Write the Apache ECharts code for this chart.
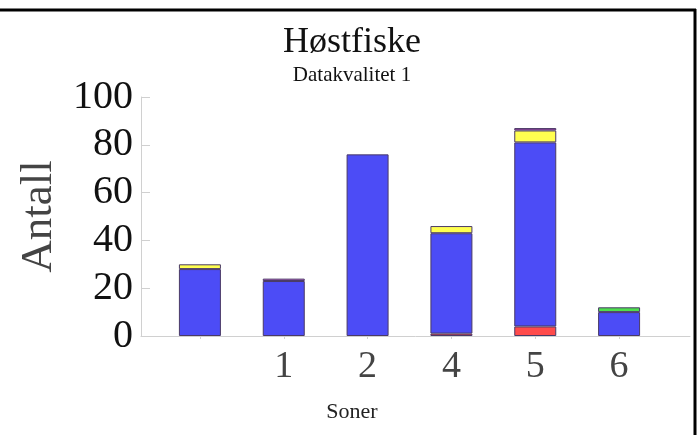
<!DOCTYPE html>
<html>
<head>
<meta charset="utf-8">
<script src="https://cdn.jsdelivr.net/npm/echarts@6/dist/echarts.min.js"></script>
<style>html,body{margin:0;padding:0;background:#fff}#c{width:700px;height:435px}</style>
</head>
<body>
<div id="c"></div>
<script>
const categories = ["", "1", "2", "4", "5", "6"];
const red     = [0, 0, 0, 1, 4, 0];
const blue    = [28, 23, 76, 42, 77, 10];
const yellow  = [2, 0, 0, 3, 5, 0];
const magenta = [0, 1, 0, 0, 1, 0];
const green   = [0, 0, 0, 0, 0, 2];
const yTicks  = [0, 20, 40, 60, 80, 100];

const seriesDefs = [
  { name: "rød", data: red, color: "#ff4b4b" },
  { name: "blå", data: blue, color: "#4c4cf6" },
  { name: "gul", data: yellow, color: "#ffff50" },
  { name: "lilla", data: magenta, color: "#c04cc4" },
  { name: "grønn", data: green, color: "#4ee04e" }
];

const chart = echarts.init(document.getElementById('c'), null, { renderer: 'canvas' });
const font = "'Liberation Serif', 'Times New Roman', serif";
const axisGray = '#d0d0d0';

chart.setOption({
  animation: false,
  backgroundColor: '#fff',
  title: [
    { text: 'Høstfiske', left: 347, top: 20, textAlign: 'center',
      textStyle: { fontFamily: font, fontSize: 36, fontWeight: 'normal', color: '#111' } },
    { text: 'Datakvalitet 1', left: 347, top: 60, textAlign: 'center',
      textStyle: { fontFamily: font, fontSize: 21, fontWeight: 'normal', color: '#111' } },
    { text: 'Soner', left: 347, top: 396, textAlign: 'center',
      textStyle: { fontFamily: font, fontSize: 22, fontWeight: 'normal', color: '#222' } }
  ],
  grid: [
    { left: 158, right: 39, top: 97, bottom: 99, containLabel: false },
    { left: 141, right: 10, top: 97, bottom: 99, containLabel: false }
  ],
  xAxis: [
    { type: 'category', gridIndex: 0, data: categories, boundaryGap: true,
      axisLine: { show: false },
      axisTick: { show: true, alignWithLabel: true, length: 3, lineStyle: { color: axisGray } },
      axisLabel: { margin: 12, fontFamily: font, fontSize: 38, color: '#444' } },
    { type: 'value', gridIndex: 1, min: 0, max: 1,
      axisLine: { show: true, onZero: false, lineStyle: { color: axisGray, width: 1 } },
      axisTick: { show: false }, axisLabel: { show: false }, splitLine: { show: false } }
  ],
  yAxis: [
    { type: 'value', gridIndex: 0, min: 0, max: 100, interval: 20,
      axisLine: { show: false }, axisTick: { show: false }, axisLabel: { show: false },
      splitLine: { show: false } },
    { type: 'value', gridIndex: 1, min: 0, max: 100, interval: 20,
      name: 'Antall', nameLocation: 'middle', nameGap: 78, nameRotate: 90,
      nameTextStyle: { fontFamily: font, fontSize: 45, color: '#444' },
      splitLine: { show: false },
      axisLine: { show: true, onZero: false, lineStyle: { color: axisGray, width: 1 } },
      axisTick: { show: true, inside: true, length: 9, lineStyle: { color: axisGray } },
      axisLabel: { margin: 8, fontFamily: font, fontSize: 40, color: '#111',
        formatter: v => yTicks.includes(v) ? String(v) : '' } }
  ],
  series: seriesDefs.map(s => ({
    name: s.name, type: 'bar', stack: 'total', barWidth: 42,
    xAxisIndex: 0, yAxisIndex: 0,
    data: s.data.map(v => v === 0 ? '-' : v),
    itemStyle: { color: s.color, borderColor: '#4a3a66', borderWidth: 1 }
  })),
  graphic: [
    { type: 'line', shape: { x1: 0, y1: 10, x2: 696, y2: 10 }, style: { stroke: '#000', lineWidth: 3 } },
    { type: 'line', shape: { x1: 695, y1: 9, x2: 695, y2: 435 }, style: { stroke: '#000', lineWidth: 3 } }
  ]
});
</script>
</body>
</html>
